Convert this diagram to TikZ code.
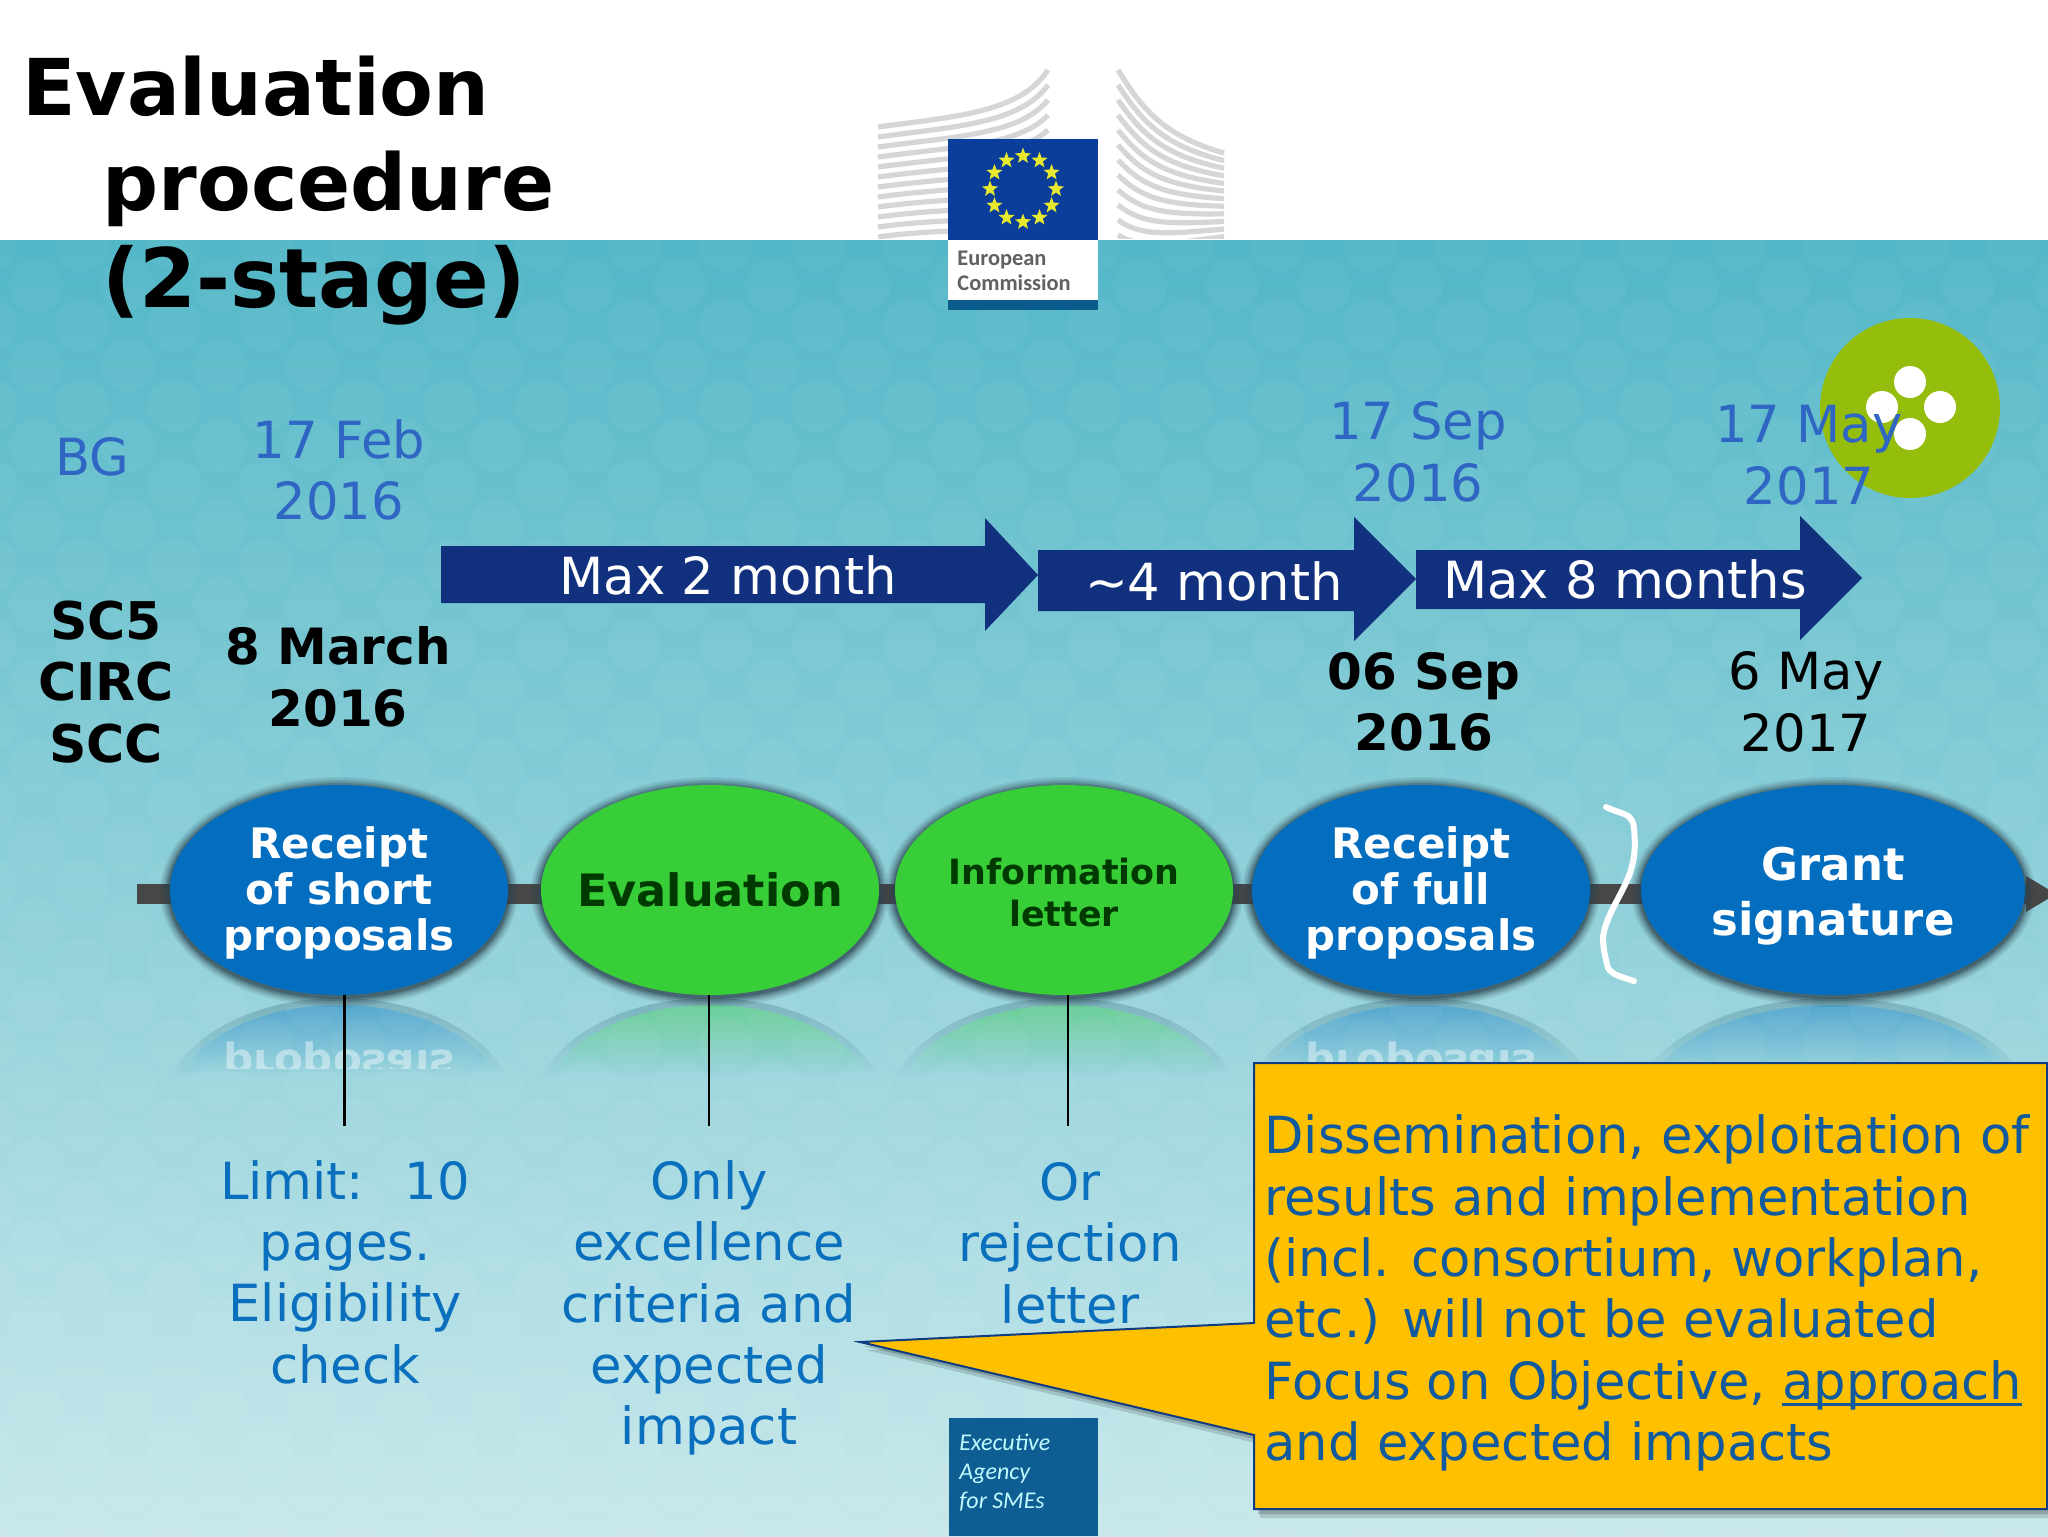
\documentclass[tikz,border=0pt]{standalone}
\usepackage{fontspec}
\usepackage{graphicx}
\setmainfont{DejaVu Sans}
\newfontfamily\logofont{Carlito}
\usetikzlibrary{shapes.geometric}
\definecolor{bgtop}{HTML}{52B7C7}
\definecolor{bgmid}{HTML}{83CAD6}
\definecolor{bgbot}{HTML}{C8E8EB}
\definecolor{bgrefa}{HTML}{8ECFDA}
\definecolor{bgrefb}{HTML}{97D3DC}
\definecolor{datecol}{HTML}{2F66C4}
\definecolor{lowcol}{HTML}{0A70BE}
\definecolor{navy}{HTML}{11317F}
\definecolor{orbblue}{HTML}{036EC0}
\definecolor{orbgreen}{HTML}{37CE37}
\definecolor{darkgreen}{HTML}{003A00}
\definecolor{halo}{HTML}{2C4450}
\definecolor{gold}{HTML}{FFC000}
\definecolor{calltxt}{HTML}{125A9E}
\definecolor{calledge}{HTML}{0F3B80}
\definecolor{flag}{HTML}{0B3E9B}
\definecolor{starcol}{HTML}{E6E92E}
\definecolor{lime}{HTML}{95BE0C}
\definecolor{agency}{HTML}{0E5E93}
\definecolor{strip}{HTML}{0A5C8C}
\definecolor{bldg}{HTML}{D4D6D7}
\tikzset{
  x=0.5pt,y=-0.5pt,
  titletxt/.style={anchor=west,inner sep=0pt,font=\fontsize{39.2}{48}\selectfont\bfseries,text=black},
  datetxt/.style={align=center,inner sep=0pt,text=datecol,font=\fontsize{25.6}{30.7}\selectfont},
  boldtxt/.style={align=center,inner sep=0pt,text=black,font=\fontsize{25}{30.7}\selectfont\bfseries},
  plaintxt/.style={align=center,inner sep=0pt,text=black,font=\fontsize{25.6}{30.7}\selectfont},
  lowtxt/.style={align=center,inner sep=0pt,text=lowcol,font=\fontsize{25.6}{30.7}\selectfont},
  arrowtxt/.style={inner sep=0pt,text=white,font=\fontsize{25.6}{30}\selectfont},
  orb/.style={ellipse,inner sep=0pt,align=center,font=\fontsize{21}{23}\selectfont\bfseries},
  stem/.style={draw=black,line width=1.1pt},
  barline/.style={draw=black!72,line width=10pt},
  navyarrow/.style={fill=navy},
  calloutshape/.style={fill=gold,draw=calledge,line width=1pt,line join=miter},
  calltext/.style={anchor=west,align=left,inner sep=0pt,text=calltxt,font=\fontsize{25.6}{30.7}\selectfont},
  buildline/.style={draw=bldg,line width=2.6pt},
  bracepath/.style={draw=white,line width=3pt,line cap=round,line join=round},
  mirrortxt/.style={inner sep=0pt,text=white,opacity=.42,font=\fontsize{21}{23}\selectfont\bfseries},
}
\newcommand{\thickul}[1]{\setbox0=\hbox{#1}\rlap{\rule[-3.2pt]{\wd0}{1.1pt}}\box0\relax}
\newcommand{\halo}[4]{% x, rx, ry, y
  \foreach \dd/\oo in {10/.10,8/.14,6/.2,4/.3,2/.45}{
    \fill[halo,fill opacity=\oo] (#1,#4+2) ellipse [x radius=#2+\dd,y radius=#3+\dd];
  }
}
\newcommand{\mirror}[3]{% x, rx, colour
  \begin{scope}
    \clip (#1,1110) ellipse [x radius=#2+7,y radius=112];
    \shade[top color=halo!22!bgrefa,bottom color=bgrefb] (#1-#2-10,998) rectangle (#1+#2+10,1072);
  \end{scope}
  \begin{scope}
    \clip (#1,1110) ellipse [x radius=#2,y radius=105];
    \shade[top color=#3!42!bgrefa,bottom color=bgrefb] (#1-#2,1003) rectangle (#1+#2,1072);
  \end{scope}
}
\begin{document}
\begin{tikzpicture}
\useasboundingbox (0,0) rectangle (2048,1536);
% background
\fill[white] (0,0) rectangle (2048,240);
\shade[top color=bgtop,middle color=bgmid,bottom color=bgbot] (0,240) rectangle (2048,1536);
% reflections
\mirror{339}{169}{orbblue}
\mirror{710}{169}{orbgreen}
\mirror{1064}{169}{orbgreen}
\mirror{1421}{169}{orbblue}
\mirror{1833}{192}{orbblue}
\begin{scope}
  \clip (0,240) rectangle (2048,1536);
  \foreach \r in {0,...,32}{
    \foreach \c in {0,...,23}{
      \pgfmathsetmacro{\xx}{\c*92+mod(\r,2)*46-10}
      \pgfmathsetmacro{\yy}{245+\r*40}
      \fill[white,fill opacity=.04] (\xx,\yy) circle [radius=27];
    }
  }
\end{scope}
\begin{scope}
  \clip (0,1040) rectangle (2048,1068);
  \node[mirrortxt] (ra) at (339,1062) {\scalebox{1}[-1]{proposals}};
  \node[mirrortxt] (rb) at (1421,1062) {\scalebox{1}[-1]{proposals}};
\end{scope}
% EC logo: building
\begin{scope}
  \clip (860,60) rectangle (1240,238);
  \foreach \k in {0,...,11}{
    \draw[buildline] (878,127+\k*10) .. controls (960,116+\k*10) and (1020,112+\k*11) .. (1048,70+\k*15);
    \draw[buildline] (1118,70+\k*15) .. controls (1140,105+\k*13) and (1160,135+\k*10) .. (1224,153+\k*7.6);
  }
\end{scope}
\fill[flag] (948,139) rectangle (1098,240);
\fill[white] (948,240) rectangle (1098,300);
\fill[strip] (948,300) rectangle (1098,310);
\foreach \a in {0,30,...,330}{
  \node[star,star points=5,star point ratio=2.4,fill=starcol,inner sep=0pt,minimum size=8.5pt] (st\a) at ({1023+33*cos(\a)},{189+33*sin(\a)}) {};
}
\node[anchor=west,inner sep=0pt,text=black!62,align=left,font=\logofont\bfseries\fontsize{11.2}{12.5}\selectfont] (eclogo) at (957,271) {European\\Commission};
% green dot
\fill[lime] (1910,408) circle [radius=90];
\foreach \px/\py in {1910/382,1882/407,1940/407,1910/434}{
  \fill[white] (\px,\py) circle [radius=16];
}
% title
\node[titletxt] (t1) at (22,86) {Evaluation};
\node[titletxt] (t2) at (102,189) {procedure};
\node[titletxt,font=\fontsize{41}{48}\selectfont\bfseries] (t3) at (102,285) {(2-stage)};
% dates
\node[datetxt] (bg) at (92,457) {BG};
\node[datetxt] (d1) at (339,470) {17 Feb\\2016};
\node[datetxt] (d2) at (1418,452) {17 Sep\\2016};
\node[datetxt] (d3) at (1809,455) {17 May\\2017};
\node[boldtxt,font=\fontsize{26}{30.7}\selectfont\bfseries] (sc) at (106,682) {SC5\\CIRC\\SCC};
\node[boldtxt] (b1) at (338,677) {8 March\\2016};
\node[boldtxt] (b2) at (1424,702) {06 Sep\\2016};
\node[plaintxt] (b3) at (1806,702) {6 May\\2017};
% arrows
\fill[navyarrow] (441,546) -- (985,546) -- (985,518) -- (1038,575) -- (985,631) -- (985,603) -- (441,603) -- cycle;
\fill[navyarrow] (1038,550) -- (1354,550) -- (1354,517) -- (1416,579) -- (1354,641) -- (1354,611) -- (1038,611) -- cycle;
\fill[navyarrow] (1416,550) -- (1800,550) -- (1800,516) -- (1862,578) -- (1800,640) -- (1800,609) -- (1416,609) -- cycle;
\node[arrowtxt] (a1) at (728,575) {Max 2 month};
\node[arrowtxt] (a2) at (1214,581) {\char`\~4 month};
\node[arrowtxt] (a3) at (1625,579) {Max 8 months};
% timeline
\coordinate (barstart) at (137,894);
\coordinate (barend) at (2030,894);
\draw[barline] (barstart) -- (barend);
\fill[black!72] (2026,876) -- (2056,894) -- (2026,912) -- cycle;
% orbs
\halo{339}{169}{105}{890}
\halo{710}{169}{105}{890}
\halo{1064}{169}{105}{890}
\halo{1421}{169}{105}{890}
\halo{1833}{192}{105}{890}
\node[orb,fill=orbblue,text=white,minimum width=169pt,minimum height=105pt] (e1) at (339,890) {\rule{0pt}{18.6pt}Receipt\\of short\\proposals};
\node[orb,fill=orbgreen,text=darkgreen,minimum width=169pt,minimum height=105pt,inner xsep=-8pt,font=\fontsize{22.3}{26}\selectfont\bfseries] (e2) at (710,890) {Evaluation};
\node[orb,fill=orbgreen,text=darkgreen,minimum width=169pt,minimum height=105pt,font=\fontsize{17.4}{21}\selectfont\bfseries] (e3) at (1064,890) {\rule{0pt}{15.5pt}Information\\letter};
\node[orb,fill=orbblue,text=white,minimum width=169pt,minimum height=105pt] (e4) at (1421,890) {\rule{0pt}{18.6pt}Receipt\\of full\\proposals};
\node[orb,fill=orbblue,text=white,minimum width=192pt,minimum height=105pt,font=\fontsize{22.5}{27.5}\selectfont\bfseries] (e5) at (1833,890) {\rule{0pt}{23pt}Grant\\signature};
% brace
\draw[bracepath] (1606,807) .. controls (1622,815) and (1632,812) .. (1634,828) .. controls (1636,850) and (1634,860) .. (1630,873) .. controls (1622,895) and (1606,915) .. (1603,937) .. controls (1603,950) and (1606,960) .. (1608,968) .. controls (1612,975) and (1622,977) .. (1634,981);
% stems and lower texts
\coordinate (s1) at (344.5,1126);
\coordinate (s2) at (709,1126);
\coordinate (s3) at (1068,1126);
\draw[stem] (e1.south -| s1) -- (s1);
\draw[stem] (e2.south -| s2) -- (s2);
\draw[stem] (e3.south -| s3) -- (s3);
\node[lowtxt] (l1) at (345,1272) {Limit:\ \ \hspace{4pt}10\\pages.\\Eligibility\\check};
\node[lowtxt] (l2) at (709,1308) {Only\\excellence\\criteria and\\expected\\impact};
\node[lowtxt] (l3) at (1070,1243) {Or\\rejection\\letter};
% agency box
\fill[agency] (949,1418) rectangle (1098,1536);
\node[anchor=north west,inner sep=0pt,align=left,text=blue!8!cyan!25!white,font=\logofont\itshape\fontsize{12}{14.7}\selectfont] (agencytxt) at (959,1433) {Executive\\Agency\\for SMEs};
% callout
\fill[black,fill opacity=.14] (866,1350) -- (1260,1332) -- (1260,1071) -- (2054,1071) -- (2054,1518) -- (1260,1518) -- (1260,1444) -- cycle;
\fill[black,fill opacity=.18] (863,1346) -- (1258,1328) -- (1258,1068) -- (2052,1068) -- (2052,1514) -- (1258,1514) -- (1258,1440) -- cycle;
\draw[calloutshape] (1254,1063) -- (2047,1063) -- (2047,1509) -- (1254,1509) -- (1254,1435) -- (860,1342) -- (1254,1323) -- cycle;
\node[calltext] (calltxtnode) at (1264,1293) {Dissemination, exploitation of\\results and implementation\\(incl. consortium, workplan,\\etc.) will not be evaluated\\Focus on Objective, \thickul{approach}\\and expected impacts};
\end{tikzpicture}
\end{document}
